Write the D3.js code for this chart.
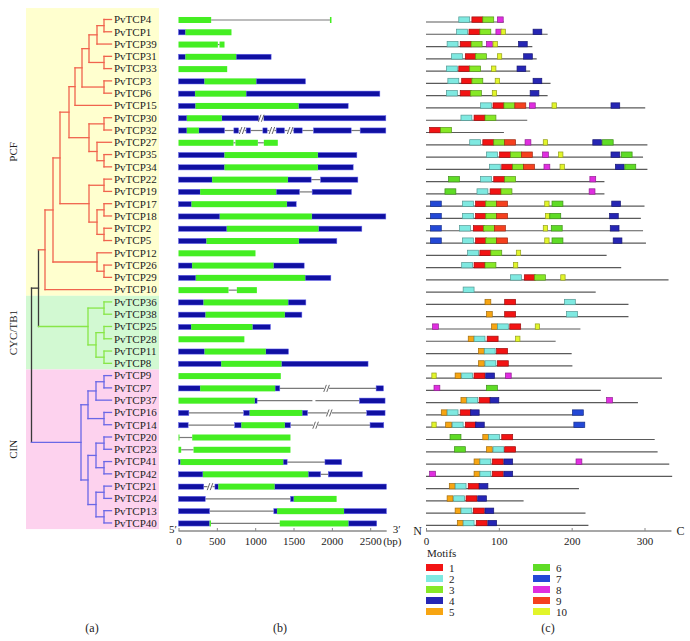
<!DOCTYPE html>
<html><head><meta charset="utf-8">
<script src="https://cdn.jsdelivr.net/npm/d3@7"></script>
<style>
html,body{margin:0;padding:0;background:#fff;}
text{font-family:"Liberation Serif","Times New Roman",serif;fill:#222;}
</style></head>
<body><svg id="c" width="690" height="641"></svg>
<script>
// ---------------- DATA ----------------
const genes = ["PvTCP4","PvTCP1","PvTCP39","PvTCP31","PvTCP33","PvTCP3","PvTCP6","PvTCP15","PvTCP30","PvTCP32","PvTCP27","PvTCP35","PvTCP34","PvTCP22","PvTCP19","PvTCP17","PvTCP18","PvTCP2","PvTCP5","PvTCP12","PvTCP26","PvTCP29","PvTCP10","PvTCP36","PvTCP38","PvTCP25","PvTCP28","PvTCP11","PvTCP8","PvTCP9","PvTCP7","PvTCP37","PvTCP16","PvTCP14","PvTCP20","PvTCP23","PvTCP41","PvTCP42","PvTCP21","PvTCP24","PvTCP13","PvTCP40"];

const groupNames = ["PCF","CYC/TB1","CIN"];
const groupFirst = ["PvTCP4","PvTCP36","PvTCP9"];
const groupLast  = ["PvTCP10","PvTCP8","PvTCP40"];
const groupFill  = ["#ffffcf","#d2f9d2","#fdd2ee"];
const cladeLine  = ["#f0644e","#88e648","#6a68e6"];

// tree in Newick form; number after ":" is the node depth from the root (tree units)
const pcfA = "(((((PvTCP4,PvTCP1):72.5,PvTCP39):65.5,(PvTCP31,PvTCP33):72.5):57.5,(PvTCP3,PvTCP6):72.5):50.5,PvTCP15):43.5";
const pcfB = "((PvTCP30,PvTCP32):72.5,(PvTCP27,(PvTCP35,PvTCP34):72.5):65.5):57.5";
const pcfC = "((PvTCP22,PvTCP19):72.5,((PvTCP17,PvTCP18):72.5,(PvTCP2,PvTCP5):72.5):65.5):57.5";
const pcfD = "(PvTCP12,(PvTCP26,PvTCP29):72.5):65.5";
const pcfClade = "((((" + pcfA + "," + pcfB + "):37.5," + pcfC + "):28.5," + pcfD + "):21.5,PvTCP10)PCF:13.5";
const cycClade = "((PvTCP36,PvTCP38):72.5,((PvTCP25,PvTCP28):72.5,(PvTCP11,PvTCP8):72.5):64.5)CYC/TB1:56.5";
const cinA = "(((PvTCP9,PvTCP7):72.5,PvTCP37):64.5,(PvTCP16,PvTCP14):72.5):56.5";
const cinB = "(((PvTCP20,PvTCP23):72.5,(PvTCP41,PvTCP42):72.5):64.5,((PvTCP21,PvTCP24):72.5,(PvTCP13,PvTCP40):72.5):64.5):56.5";
const treeNewick = "((" + pcfClade + "," + cycClade + "):7,(" + cinA + "," + cinB + ")CIN:49.5):0";
const leafDepth = 80;

// gene structures: [type, start bp, end bp]; u = UTR, c = CDS
const geneSegs = [
 [["c",0,426],["c",1975,1995]],
 [["u",0,91],["c",91,691]],
 [["c",0,513],["c",535,600]],
 [["u",0,91],["c",91,752],["u",752,1208]],
 [["c",0,635]],
 [["u",0,339],["c",339,1013],["u",1013,1656]],
 [["u",0,217],["c",217,882],["u",882,2626]],
 [["u",0,222],["c",222,1565],["u",1565,2213]],
 [["u",0,109],["c",109,565],["u",565,2704]],
 [["u",0,109],["c",109,265],["u",265,600],["u",722,783],["u",882,939],["u",1100,1156],["u",1274,1382],["u",1504,1613],["u",1760,2252],["u",2369,2704]],
 [["c",0,717],["c",743,1035],["c",1113,1295]],
 [["u",0,600],["c",600,1817],["u",1817,2326]],
 [["u",0,600],["c",600,1817],["u",1817,2278]],
 [["u",0,439],["c",439,1426],["u",1426,1730],["u",1852,2339]],
 [["u",0,283],["c",283,1274],["u",1274,1578],["u",1743,2256]],
 [["u",0,170],["c",170,1413],["u",1413,1535]],
 [["u",0,539],["c",539,1739],["u",1739,2704]],
 [["u",0,630],["c",630,1826],["u",1826,2391]],
 [["u",0,365],["c",365,1569],["u",1569,2065]],
 [["c",0,1004]],
 [["u",0,178],["c",178,1239],["u",1239,1639]],
 [["u",0,226],["c",226,1652],["u",1652,1987]],
 [["c",0,652],["c",761,1022]],
 [["u",0,327],["c",327,1430],["u",1430,1661]],
 [["u",0,353],["c",353,1386],["u",1386,1609]],
 [["u",0,166],["c",166,964],["u",964,1199]],
 [["c",0,859]],
 [["u",0,340],["c",340,1138],["u",1138,1434]],
 [["u",0,558],["c",558,1343],["u",1343,2472]],
 [["c",0,1334]],
 [["u",0,283],["c",283,1260],["u",1260,1321],["u",2577,2673]],
 [["c",0,994],["u",994,1025],["u",2359,2694]],
 [["u",0,135],["u",850,929],["c",929,1613],["u",1613,1683],["u",2455,2694]],
 [["u",0,126],["u",732,820],["c",820,1386],["u",1386,1460],["u",2498,2677]],
 [["c",0,9],["c",179,1460]],
 [["c",0,35],["c",196,1460]],
 [["u",0,26],["c",26,1365],["u",1365,1417],["u",1910,2128]],
 [["u",0,318],["c",318,1692],["u",1692,1853],["u",1953,2398]],
 [["u",0,329],["u",475,520],["c",520,1253],["u",1253,2712]],
 [["u",0,349],["u",1461,1504],["c",1504,2062]],
 [["u",0,405],["u",1243,1286],["c",1286,2158],["u",2158,2712]],
 [["u",0,405],["c",405,423],["c",1321,2215],["u",2215,2585]]
];
// break marks: [gene, bp, kind]
const breaks = [["PvTCP30",1078,"slash"],["PvTCP32",830,"slash"],["PvTCP32",1218,"slash"],["PvTCP32",1456,"slash"],
 ["PvTCP7",1931,"slash"],["PvTCP37",1779,"gap"],["PvTCP16",1966,"slash"],["PvTCP14",1788,"slash"],["PvTCP21",411,"slash"]];
const bpTicks = [0,500,1000,1500,2000,2500];
const bpAxisEnd = 2715;

// protein lengths (aa) and motif hits [motif, start aa]
const protLen = [107,167,146,152,143,171,167,301,139,107,304,298,304,245,245,300,295,298,302,248,268,333,233,
 278,278,212,178,200,201,324,240,291,216,216,314,318,334,338,210,134,219,223];
const motifHits = [
 [[2,45],[1,63],[3,78],[8,98]],
 [[2,42],[1,59],[3,74],[8,96],[10,103],[4,147]],
 [[2,29],[1,47],[3,62],[8,83],[10,92],[4,127]],
 [[2,35],[1,54],[3,68],[10,98],[4,134]],
 [[2,28],[1,45],[3,60],[10,90],[4,125]],
 [[2,30],[1,49],[3,63],[10,95],[4,147]],
 [[2,28],[1,47],[3,61],[10,91],[4,143]],
 [[2,75],[1,92],[3,107],[9,122],[8,142],[10,173],[4,254]],
 [[2,48],[1,66],[3,81]],
 [[1,5],[3,20]],
 [[2,60],[1,78],[3,93],[9,108],[8,136],[10,161],[4,229],[6,242]],
 [[2,83],[1,101],[3,116],[9,131],[8,160],[10,182],[4,254],[6,268]],
 [[2,87],[1,104],[3,119],[9,134],[8,162],[10,184],[4,260],[6,273]],
 [[6,31],[2,75],[1,93],[3,108],[8,225]],
 [[6,26],[2,70],[1,88],[3,103],[8,224]],
 [[7,6],[2,50],[1,68],[3,82],[9,97],[10,163],[6,173],[4,255]],
 [[7,6],[2,50],[1,68],[3,82],[9,97],[10,164],[6,170],[4,252]],
 [[7,6],[2,46],[1,65],[3,79],[9,94],[10,161],[6,172],[4,253]],
 [[7,6],[2,50],[1,68],[3,82],[9,97],[10,163],[6,173],[4,257]],
 [[2,57],[1,74],[3,89],[10,124]],
 [[2,49],[1,66],[3,81],[10,120]],
 [[2,116],[1,135],[3,149],[10,185]],
 [[2,51]],
 [[5,81],[1,108],[2,190]],
 [[5,83],[1,108],[2,193]],
 [[8,9],[5,90],[2,98],[1,115],[10,150]],
 [[5,58],[2,66],[1,84],[10,123]],
 [[5,72],[2,80],[1,97]],
 [[5,72],[2,81],[1,98]],
 [[10,8],[5,40],[2,49],[1,66],[4,82],[8,109]],
 [[8,11],[6,83]],
 [[5,48],[2,56],[1,73],[4,88],[8,248]],
 [[5,21],[2,29],[1,47],[4,61],[7,201]],
 [[10,8],[5,27],[2,36],[1,54],[4,68],[7,203]],
 [[6,33],[5,78],[2,86],[1,104]],
 [[6,39],[5,83],[2,92],[1,108]],
 [[5,66],[2,74],[1,91],[4,107],[8,206]],
 [[8,5],[5,66],[2,74],[1,91],[4,107]],
 [[5,32],[2,40],[1,58],[4,73]],
 [[5,29],[2,38],[1,55],[4,71]],
 [[5,40],[2,48],[1,65],[4,81]],
 [[5,43],[2,51],[1,69],[4,85]]
];
const motifIds = [1,2,3,4,5,6,7,8,9,10];
const motifLen = [15,15,15,12,8,15,15,8,15,6];
const motifColor = ["#f21414","#7fe9e1","#86e826","#2626b4","#f7a512","#5fdc26","#2348d6","#e02ee0","#f5401e","#e2f52a"];
const aaTicks = [0,100,200,300];
const aaAxisEnd = 337;

// ---------------- SCALES ----------------
const svg = d3.select("#c");
const yB = d3.scaleBand().domain(genes).range([13.35,529.1]);
const yc = g => yB(g) + yB.bandwidth()/2;
const xT = d3.scaleLinear().domain([0,leafDepth]).range([31.5,111.5]);
const xB = d3.scaleLinear().domain([0,2500]).range([178.5,370.2]);
const xM = d3.scaleLinear().domain([0,300]).range([426,644.5]);

// ---------------- (a) TREE ----------------
groupNames.forEach((g,i)=>{
  const top = yB(groupFirst[i]) - (i===0?5.3:0);
  const bot = yB(groupLast[i]) + yB.bandwidth();
  svg.append("rect").attr("x",26).attr("y",top).attr("width",133).attr("height",bot-top).attr("fill",groupFill[i]);
  svg.append("text").attr("transform",`translate(13,${(top+bot)/2}) rotate(-90)`)
    .attr("text-anchor","middle").attr("dominant-baseline","central").attr("font-size",11).text(g);
});

function parseNewick(s){
  let i=0;
  function node(){
    const n={children:[]};
    if(s[i]==="("){ i++; n.children.push(node()); while(s[i]===","){ i++; n.children.push(node()); } i++; }
    let name=""; while(i<s.length && !",():".includes(s[i])) name+=s[i++];
    n.name=name;
    if(s[i]===":"){ i++; let num=""; while(i<s.length && !",()".includes(s[i])) num+=s[i++]; n.depth=+num; }
    return n;
  }
  return node();
}
const root = d3.hierarchy(parseNewick(treeNewick), d=>d.children.length?d.children:null);
root.eachAfter(n=>{
  if(!n.children){ n.yy = yc(n.data.name); n.dd = leafDepth; }
  else { n.yy = (n.children[0].yy + n.children[n.children.length-1].yy)/2; n.dd = n.data.depth; }
});
root.eachBefore(n=>{
  const gi = groupNames.indexOf(n.data.name);
  n.col = gi>=0 ? cladeLine[gi] : (n.parent ? n.parent.col : "#3a3a3a");
});
const tg = svg.append("g").attr("fill","none").attr("stroke-width",1.3).attr("stroke-linecap","square");
root.descendants().forEach(n=>{
  if(n.parent){
    tg.append("line").attr("x1",xT(n.parent.dd)).attr("x2",xT(n.dd)).attr("y1",n.yy).attr("y2",n.yy).attr("stroke",n.col);
  }
  if(n.children){
    tg.append("line").attr("x1",xT(n.dd)).attr("x2",xT(n.dd))
      .attr("y1",n.children[0].yy).attr("y2",n.children[n.children.length-1].yy).attr("stroke",n.col);
  }
});
svg.append("g").selectAll("text").data(genes).join("text")
  .attr("x",xT(leafDepth)+2.5).attr("y",d=>yc(d)).attr("dy","0.35em").attr("font-size",11).text(d=>d);

// ---------------- (b) GENE STRUCTURE ----------------
const gb = svg.append("g");
genes.forEach((g,i)=>{
  const segs = geneSegs[i], y = yc(g)+0.5;
  for(let k=0;k<segs.length-1;k++){
    if(segs[k+1][1] > segs[k][2])
      gb.append("line").attr("x1",xB(segs[k][2])).attr("x2",xB(segs[k+1][1])).attr("y1",y).attr("y2",y)
        .attr("stroke","#7a7a7a").attr("stroke-width",1.2);
  }
  segs.filter(s=>s[0]==="u").forEach(s=>{
    gb.append("rect").attr("x",xB(s[1])).attr("y",y-2.6).attr("width",xB(s[2])-xB(s[1])).attr("height",5.2)
      .attr("fill","#1010a2").attr("stroke","#6b6bf0").attr("stroke-width",0.5);
  });
  segs.filter(s=>s[0]==="c").forEach(s=>{
    gb.append("rect").attr("x",xB(s[1])).attr("y",y-3).attr("width",Math.max(1,xB(s[2])-xB(s[1]))).attr("height",6)
      .attr("fill","#44ee22");
  });
});
breaks.forEach(b=>{
  const x = xB(b[1]), y = yc(b[0])+0.5;
  gb.append("rect").attr("x",x-2.5).attr("y",y-3.5).attr("width",b[2]==="gap"?3:5).attr("height",7).attr("fill","#fff");
  if(b[2]==="slash"){
    [-1.5,1.5].forEach(o=>gb.append("line").attr("x1",x+o-1.3).attr("x2",x+o+1.3).attr("y1",y+3.5).attr("y2",y-3.5)
      .attr("stroke","#555").attr("stroke-width",0.9));
  }
});
const axY = 531;
const axB = svg.append("g").attr("transform",`translate(0,${axY})`)
  .call(d3.axisBottom(xB).tickValues(bpTicks).tickFormat(d3.format("d")).tickSizeInner(-3).tickSizeOuter(0).tickPadding(6));
axB.select(".domain").remove();
axB.selectAll("line").attr("stroke","#888");
axB.selectAll("text").attr("font-size",11).attr("font-family","Liberation Serif").attr("fill","#222");
svg.append("line").attr("x1",xB(0)).attr("x2",xB(bpAxisEnd)).attr("y1",axY).attr("y2",axY).attr("stroke","#8a8a8a").attr("stroke-width",1.3);
svg.append("text").attr("x",xB(0)-1.5).attr("y",axY+2).attr("text-anchor","end").attr("font-size",11).text("5′");
svg.append("text").attr("x",xB(bpAxisEnd)+6).attr("y",axY+2).attr("font-size",11).text("3′");
svg.append("text").attr("x",xB(2500)+13).attr("y",axY+13.8).attr("font-size",11).text("(bp)");

// ---------------- (c) MOTIFS ----------------
const gm = svg.append("g");
genes.forEach((g,i)=>{
  const y = yc(g);
  gm.append("line").attr("x1",xM(0)).attr("x2",xM(protLen[i])).attr("y1",y+2.5).attr("y2",y+2.5)
    .attr("stroke","#5a5a5a").attr("stroke-width",1.2);
  motifHits[i].forEach(([m,s])=>{
    const k = motifIds.indexOf(m);
    gm.append("rect").attr("x",xM(s)).attr("y",y-2.6).attr("width",xM(s+motifLen[k])-xM(s)).attr("height",5.4)
      .attr("fill",motifColor[k]).attr("stroke",d3.color(motifColor[k]).darker(1.2)).attr("stroke-width",0.7);
  });
});
const axM = svg.append("g").attr("transform",`translate(0,${axY})`)
  .call(d3.axisBottom(xM).tickValues(aaTicks).tickFormat(d3.format("d")).tickSizeInner(-3).tickSizeOuter(0).tickPadding(6));
axM.select(".domain").remove();
axM.selectAll("line").attr("stroke","#888");
axM.selectAll("text").attr("font-size",11).attr("font-family","Liberation Serif").attr("fill","#222");
svg.append("line").attr("x1",xM(0)).attr("x2",xM(aaAxisEnd)).attr("y1",axY).attr("y2",axY).attr("stroke","#8a8a8a").attr("stroke-width",1.3);
svg.append("text").attr("x",xM(0)-4).attr("y",axY+4).attr("text-anchor","end").attr("font-size",12).text("N");
svg.append("text").attr("x",xM(aaAxisEnd)+5).attr("y",axY+4).attr("font-size",12).text("C");

// legend
svg.append("text").attr("x",427).attr("y",557).attr("font-size",11).text("Motifs");
const lg = svg.append("g").selectAll("g").data(motifIds).join("g")
  .attr("transform",(d,i)=>`translate(${i<5?426:533},${564+(i%5)*11})`);
lg.append("rect").attr("width",17).attr("height",7).attr("fill",(d,i)=>motifColor[i]);
lg.append("text").attr("x",23).attr("y",7.5).attr("font-size",11).text(d=>d);

// panel labels
[["(a)",92],["(b)",280],["(c)",548]].forEach(([t,x])=>
  svg.append("text").attr("x",x).attr("y",632).attr("text-anchor","middle").attr("font-size",12).text(t));
</script></body></html>
